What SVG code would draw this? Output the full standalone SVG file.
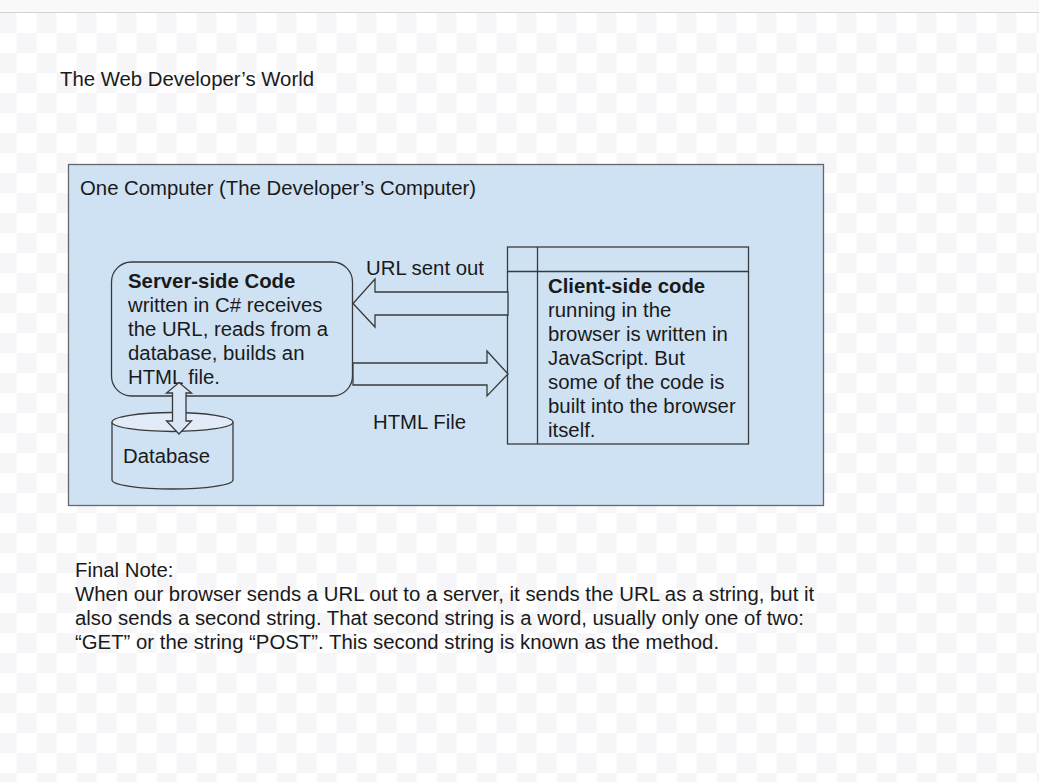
<svg xmlns="http://www.w3.org/2000/svg" width="1039" height="782" viewBox="0 0 1039 782">
<style>
text{font-family:"Liberation Sans",Arial,sans-serif;font-size:20.35px;fill:#1a1a1a}
.b{font-weight:bold}
.sh{fill:#cfe2f3;stroke:#3a3a3a;stroke-width:1.3}
</style>
<defs>
<pattern id="chk" patternUnits="userSpaceOnUse" x="-3.3" y="13" width="40" height="40">
<rect width="40" height="40" fill="#ffffff"/>
<rect width="20" height="20" fill="#f6f6f8"/>
<rect x="20" y="20" width="20" height="20" fill="#f6f6f8"/>
</pattern>
</defs>
<rect width="1039" height="782" fill="url(#chk)"/>
<rect width="1039" height="12" fill="#f9f9f9"/>
<line x1="0" y1="12.5" x2="1039" y2="12.5" stroke="#d2d2d2"/>
<text id="title" x="60" y="86">The Web Developer’s World</text>
<g id="computer">
<rect x="68.5" y="164.5" width="755" height="341" fill="#cfe2f3" stroke="#666" stroke-width="1.3"/>
<text x="80" y="195">One Computer (The Developer’s Computer)</text>
</g>
<g id="server">
<rect class="sh" x="111.5" y="262" width="241" height="134" rx="20"/>
<text x="128" y="288"><tspan class="b">Server-side Code</tspan><tspan x="128" dy="24">written in C# receives</tspan><tspan x="128" dy="24">the URL, reads from a</tspan><tspan x="128" dy="24">database, builds an</tspan><tspan x="128" dy="24">HTML file.</tspan></text>
</g>
<g id="client">
<rect class="sh" x="507.5" y="247" width="241" height="197"/>
<line x1="507.5" y1="271.5" x2="748.5" y2="271.5" stroke="#3a3a3a" stroke-width="1.3"/>
<line x1="537.5" y1="247" x2="537.5" y2="444" stroke="#3a3a3a" stroke-width="1.3"/>
<text x="548" y="293"><tspan class="b">Client-side code</tspan><tspan x="548" dy="24">running in the</tspan><tspan x="548" dy="24">browser is written in</tspan><tspan x="548" dy="24">JavaScript. But</tspan><tspan x="548" dy="24">some of the code is</tspan><tspan x="548" dy="24">built into the browser</tspan><tspan x="548" dy="24">itself.</tspan></text>
</g>
<g id="database">
<path class="sh" d="M112,422 L112,480 A60.5,9 0 0 0 233,480 L233,422"/>
<ellipse cx="172.5" cy="422" rx="60.5" ry="9.5" fill="#e2ecf8" stroke="#3a3a3a" stroke-width="1.3"/>
<text x="123" y="463">Database</text>
</g>
<g id="connectors">
<polygon class="sh" points="508,292 375,292 375,279 353,303.5 375,327 375,315 508,315"/>
<text x="366" y="275">URL sent out</text>
<polygon class="sh" points="353,363 487,363 487,351 508,374 487,396 487,385 353,385"/>
<text x="373" y="429">HTML File</text>
<polygon points="179,382.5 191.5,393 186,393 186,421 191.5,421 179,434 166.5,421 172.5,421 172.5,393 166.5,393" fill="#d9e6f5" stroke="#3a3a3a" stroke-width="1.3"/>
</g>
<g id="note">
<text x="75" y="577">Final Note:<tspan x="75" dy="24">When our browser sends a URL out to a server, it sends the URL as a string, but it</tspan><tspan x="75" dy="24">also sends a second string. That second string is a word, usually only one of two:</tspan><tspan x="75" dy="24">“GET” or the string “POST”. This second string is known as the method.</tspan></text>
</g>
</svg>
